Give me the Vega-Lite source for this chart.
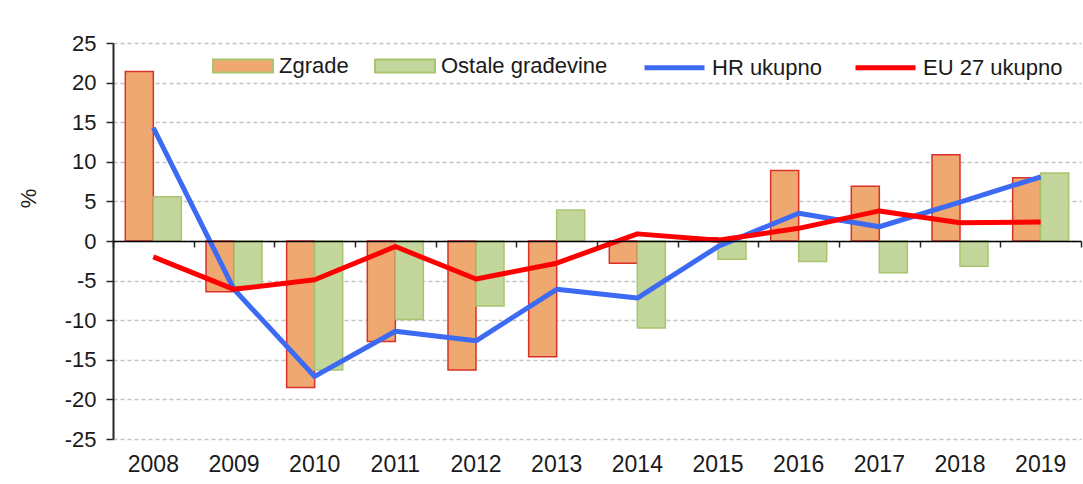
{
  "$schema": "https://vega.github.io/schema/vega-lite/v6.json",
  "autosize": "none",
  "width": 968,
  "height": 396,
  "padding": {"left": 113, "top": 43, "right": 2, "bottom": 45},
  "background": "white",
  "config": {
    "font": "Liberation Sans",
    "view": {"stroke": null},
    "axis": {"labelFont": "Liberation Sans", "titleFont": "Liberation Sans", "labelColor": "#1a1a1a", "titleColor": "#1a1a1a"},
    "legend": {"labelFont": "Liberation Sans"}
  },
  "encoding": {
    "y": {
      "field": "value",
      "type": "quantitative",
      "scale": {"domain": [-25, 25], "nice": false, "zero": false},
      "axis": {
        "title": "%",
        "titleFontSize": 22,
        "titleFontWeight": "normal",
        "titleAngle": -90,
        "titleBaseline": "middle",
        "titleX": -85,
        "titleY": 155,
        "values": [-25, -20, -15, -10, -5, 0, 5, 10, 15, 20, 25],
        "labelExpr": "'' + datum.value",
        "labelFontSize": 22,
        "labelPadding": 10,
        "tickSize": 7,
        "tickColor": "#262626",
        "tickWidth": 1.5,
        "domainColor": "#262626",
        "domainWidth": 2,
        "grid": true,
        "gridColor": "#c4c4c4",
        "gridDash": [4, 3],
        "gridWidth": 1.5,
        "zindex": 0
      }
    }
  },
  "layer": [
    {
      "data": {
        "values": [
          {"year": "2008", "series": "Zgrade", "value": 21.4},
          {"year": "2009", "series": "Zgrade", "value": -6.4},
          {"year": "2010", "series": "Zgrade", "value": -18.5},
          {"year": "2011", "series": "Zgrade", "value": -12.7},
          {"year": "2012", "series": "Zgrade", "value": -16.3},
          {"year": "2013", "series": "Zgrade", "value": -14.6},
          {"year": "2014", "series": "Zgrade", "value": -2.8},
          {"year": "2015", "series": "Zgrade", "value": 0.4},
          {"year": "2016", "series": "Zgrade", "value": 8.9},
          {"year": "2017", "series": "Zgrade", "value": 6.9},
          {"year": "2018", "series": "Zgrade", "value": 10.9},
          {"year": "2019", "series": "Zgrade", "value": 8.0},
          {"year": "2008", "series": "Ostale građevine", "value": 5.6},
          {"year": "2009", "series": "Ostale građevine", "value": -5.7},
          {"year": "2010", "series": "Ostale građevine", "value": -16.3},
          {"year": "2011", "series": "Ostale građevine", "value": -9.9},
          {"year": "2012", "series": "Ostale građevine", "value": -8.2},
          {"year": "2013", "series": "Ostale građevine", "value": 3.9},
          {"year": "2014", "series": "Ostale građevine", "value": -11.0},
          {"year": "2015", "series": "Ostale građevine", "value": -2.3},
          {"year": "2016", "series": "Ostale građevine", "value": -2.6},
          {"year": "2017", "series": "Ostale građevine", "value": -4.0},
          {"year": "2018", "series": "Ostale građevine", "value": -3.2},
          {"year": "2019", "series": "Ostale građevine", "value": 8.6}
        ]
      },
      "mark": {"type": "bar", "strokeWidth": 1.5},
      "encoding": {
        "x": {
          "field": "year",
          "type": "ordinal",
          "scale": {"paddingInner": 0, "paddingOuter": 0},
          "axis": {
            "orient": "bottom",
            "offset": -198,
            "title": null,
            "labels": false,
            "tickBand": "extent",
            "tickSize": 6,
            "tickColor": "#262626",
            "tickWidth": 1.5,
            "domainColor": "#000000",
            "domainWidth": 1.5,
            "grid": false,
            "zindex": 1
          }
        },
        "xOffset": {
          "field": "series",
          "type": "nominal",
          "scale": {"domain": ["Zgrade", "Ostale građevine"], "paddingInner": 0, "paddingOuter": 0.44}
        },
        "fill": {
          "field": "series",
          "type": "nominal",
          "scale": {"domain": ["Zgrade", "Ostale građevine"], "range": ["#efa870", "#c3d69b"]},
          "legend": {
            "orient": "none",
            "legendX": 99,
            "legendY": -8,
            "direction": "horizontal",
            "title": null,
            "padding": 0,
            "symbolType": "M-1,-0.22H1V0.22H-1Z",
            "symbolSize": 3600,
            "symbolStrokeWidth": 2,
            "labelFontSize": 22,
            "labelColor": "#1a1a1a",
            "labelLimit": 400,
            "labelOffset": 5,
            "columnPadding": 22,
            "encode": {
              "symbols": {
                "update": {
                  "stroke": {"signal": "datum.value === 'Zgrade' ? '#d9302a' : '#a9c46e'"},
                  "strokeWidth": {"value": 2}
                }
              }
            }
          }
        },
        "stroke": {
          "condition": {"test": "datum.series === 'Zgrade'", "value": "#d9302a"},
          "value": "#a9c46e"
        }
      }
    },
    {
      "data": {
        "values": [
          {"year": "2008", "series": "HR ukupno", "value": 14.3},
          {"year": "2009", "series": "HR ukupno", "value": -6.1},
          {"year": "2010", "series": "HR ukupno", "value": -17.1},
          {"year": "2011", "series": "HR ukupno", "value": -11.4},
          {"year": "2012", "series": "HR ukupno", "value": -12.6},
          {"year": "2013", "series": "HR ukupno", "value": -6.1},
          {"year": "2014", "series": "HR ukupno", "value": -7.2},
          {"year": "2015", "series": "HR ukupno", "value": -0.7},
          {"year": "2016", "series": "HR ukupno", "value": 3.5},
          {"year": "2017", "series": "HR ukupno", "value": 1.8},
          {"year": "2018", "series": "HR ukupno", "value": 4.9},
          {"year": "2019", "series": "HR ukupno", "value": 8.1},
          {"year": "2008", "series": "EU 27 ukupno", "value": -2.0},
          {"year": "2009", "series": "EU 27 ukupno", "value": -6.1},
          {"year": "2010", "series": "EU 27 ukupno", "value": -4.9},
          {"year": "2011", "series": "EU 27 ukupno", "value": -0.7},
          {"year": "2012", "series": "EU 27 ukupno", "value": -4.8},
          {"year": "2013", "series": "EU 27 ukupno", "value": -2.8},
          {"year": "2014", "series": "EU 27 ukupno", "value": 0.9},
          {"year": "2015", "series": "EU 27 ukupno", "value": 0.1},
          {"year": "2016", "series": "EU 27 ukupno", "value": 1.6},
          {"year": "2017", "series": "EU 27 ukupno", "value": 3.8},
          {"year": "2018", "series": "EU 27 ukupno", "value": 2.3},
          {"year": "2019", "series": "EU 27 ukupno", "value": 2.4}
        ]
      },
      "mark": {"type": "line", "strokeWidth": 5, "strokeJoin": "round"},
      "encoding": {
        "x": {
          "field": "year",
          "type": "ordinal",
          "scale": {"paddingInner": 0, "paddingOuter": 0},
          "axis": {
            "orient": "bottom",
            "title": null,
            "domain": false,
            "ticks": false,
            "tickSize": 0,
            "labelAngle": 0,
            "labelFontSize": 23,
            "labelPadding": 14,
            "grid": false
          }
        },
        "stroke": {
          "field": "series",
          "type": "nominal",
          "scale": {"domain": ["HR ukupno", "EU 27 ukupno"], "range": ["#3d6af2", "#ff0000"]},
          "legend": {
            "orient": "none",
            "legendX": 529,
            "legendY": -8,
            "direction": "horizontal",
            "title": null,
            "padding": 0,
            "symbolType": "M-1,0H1",
            "symbolSize": 3600,
            "symbolStrokeWidth": 5,
            "labelFontSize": 22,
            "labelColor": "#1a1a1a",
            "labelLimit": 400,
            "labelOffset": 5,
            "columnPadding": 22
          }
        }
      }
    }
  ],
  "resolve": {"axis": {"x": "independent"}}
}
